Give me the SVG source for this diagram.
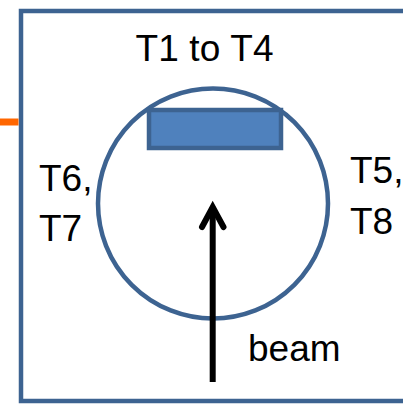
<svg xmlns="http://www.w3.org/2000/svg" width="403" height="404" viewBox="0 0 403 404">
<style>
.lbl{font-family:"Liberation Sans",Arial,sans-serif;font-size:37px;fill:#000}
.blue{fill:none;stroke:#3D6391;stroke-width:4.5}
</style>
<rect width="403" height="404" fill="#fff"/>
<g id="frame">
<rect class="blue" x="21" y="11" width="400" height="390"/>
</g>
<g id="chamber">
<circle class="blue" cx="213" cy="203.5" r="115"/>
</g>
<g id="target">
<rect x="149" y="110" width="132" height="38" fill="#4F81BD" stroke="#3D6391" stroke-width="4.5"/>
</g>
<g id="connectors">
<line x1="0" y1="122" x2="18.5" y2="122" stroke="#FF6600" stroke-width="7"/>
<line x1="212.7" y1="382" x2="212.7" y2="207" stroke="#000" stroke-width="6"/>
<polyline points="202,227 212.7,207 223.5,227" fill="none" stroke="#000" stroke-width="6" stroke-linecap="round" stroke-linejoin="miter"/>
</g>
<g id="labels">
<text class="lbl" x="204.5" y="61" text-anchor="middle" textLength="138">T1 to T4</text>
<text class="lbl" x="39" y="191">T6,</text>
<text class="lbl" x="39" y="241">T7</text>
<text class="lbl" x="350" y="183">T5,</text>
<text class="lbl" x="350" y="234">T8</text>
<text class="lbl" x="248" y="361">beam</text>
</g>
</svg>
